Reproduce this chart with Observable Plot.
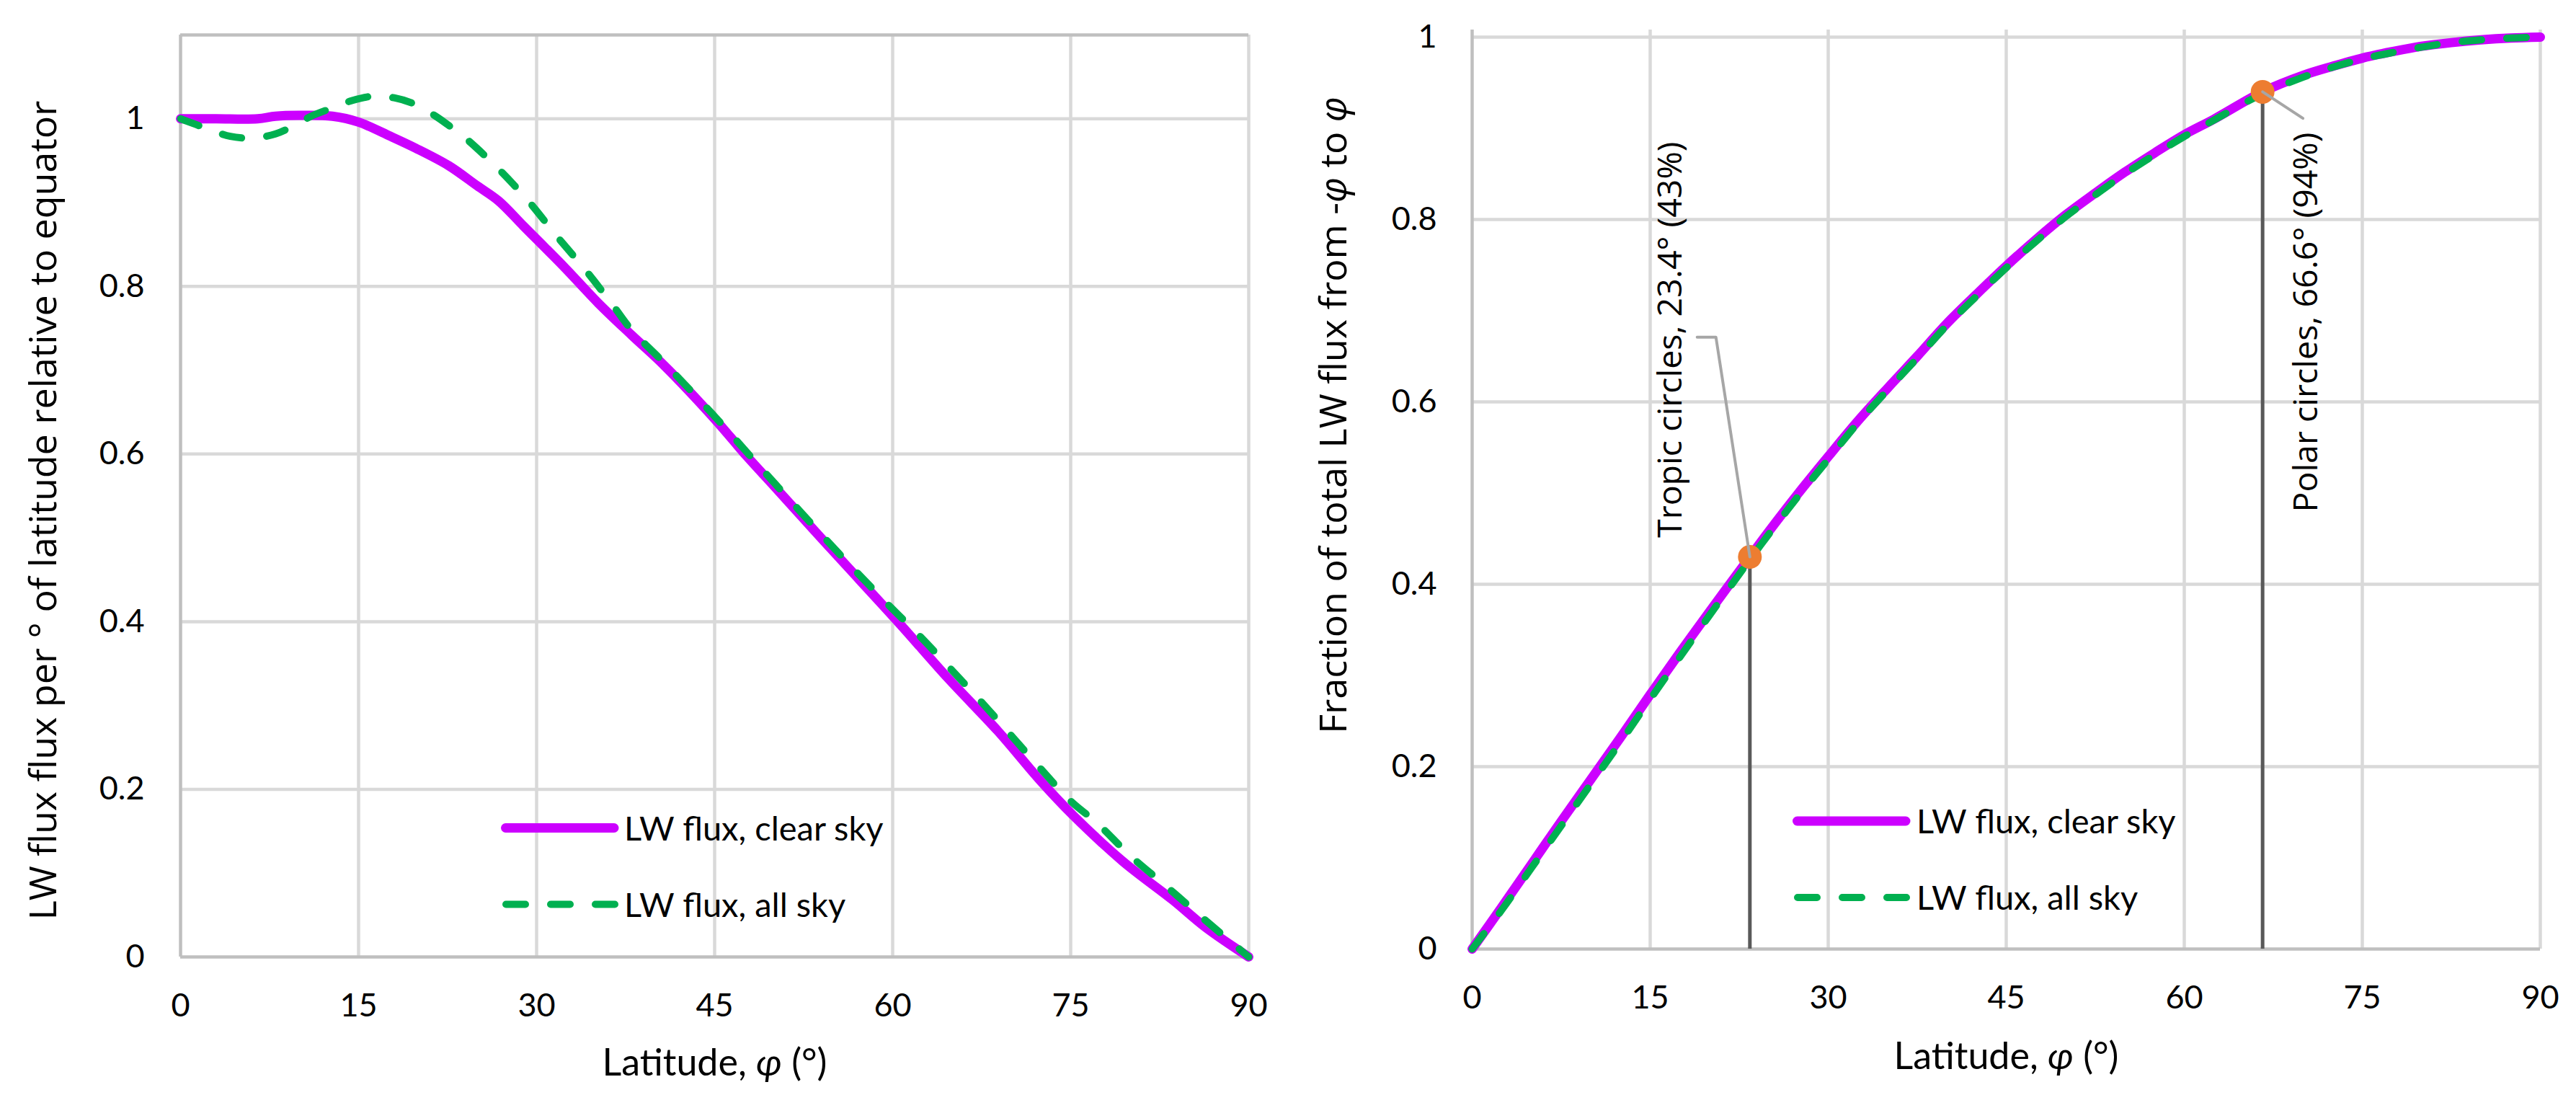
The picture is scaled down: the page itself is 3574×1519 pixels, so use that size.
<!DOCTYPE html>
<html>
<head>
<meta charset="utf-8">
<script src="https://cdn.jsdelivr.net/npm/d3@7"></script>
<script src="https://cdn.jsdelivr.net/npm/@observablehq/plot@0.6"></script>
<style>
html, body { margin: 0; padding: 0; background: #fff; }
#wrap { position: relative; width: 3574px; height: 1519px; display: flex; background: #fff; }
</style>
</head>
<body>
<div id="wrap"></div>
<script>
// ---------- data ----------
const xTicks = [0, 15, 30, 45, 60, 75, 90];
const yTicks = [0, 0.2, 0.4, 0.6, 0.8, 1];
const seriesNames = ["LW flux, clear sky", "LW flux, all sky"];

// Left chart: LW flux per degree of latitude relative to equator
const latClearL = [0, 3, 6.5, 8, 10, 12.8, 15, 17.7, 19.8, 22.6, 25, 26.8, 28.9, 32.4, 35.2, 38, 40.8, 45, 47.8, 50, 54.8, 60.5, 64.7, 68.9, 72.4, 75.2, 79.4, 83.6, 86.4, 90];
const valClearL = [1.0, 1.0, 1.0, 1.003, 1.004, 1.003, 0.996, 0.979, 0.965, 0.944, 0.92, 0.902, 0.872, 0.822, 0.780, 0.742, 0.705, 0.642, 0.596, 0.562, 0.487, 0.399, 0.332, 0.269, 0.211, 0.169, 0.114, 0.068, 0.035, 0];
const latAllL = [0, 2.3, 4.2, 6.2, 8, 9.3, 11, 12.8, 14.5, 16.3, 18, 19.8, 21.5, 22.6, 24, 26.8, 29.3, 31.7, 34.2, 36.3, 38, 40.8, 45, 50, 55.9, 60, 62, 65, 68, 72, 75, 77.2, 80, 83, 86, 90];
const valAllL = [1.0, 0.988, 0.979, 0.977, 0.982, 0.990, 1.003, 1.013, 1.022, 1.027, 1.025, 1.017, 1.003, 0.992, 0.977, 0.940, 0.902, 0.860, 0.818, 0.780, 0.748, 0.708, 0.645, 0.566, 0.475, 0.415, 0.387, 0.342, 0.296, 0.232, 0.186, 0.160, 0.121, 0.085, 0.048, 0];

// Right chart: cumulative fraction of total LW flux from -phi to phi
const latR = [0, 2.5, 5, 7.5, 10, 12.5, 15, 17.5, 20, 23.4, 25, 27.5, 30, 32.5, 35, 37.5, 40, 42.5, 45, 47.5, 50, 52.5, 55, 57.5, 60, 62.5, 66.6, 70, 72.5, 75, 77.5, 80, 82.5, 85, 87.5, 90];
const valClearR = [0, 0.046, 0.093, 0.140, 0.186, 0.232, 0.279, 0.325, 0.370, 0.430, 0.458, 0.500, 0.540, 0.579, 0.615, 0.650, 0.686, 0.718, 0.749, 0.778, 0.805, 0.829, 0.852, 0.873, 0.893, 0.910, 0.940, 0.958, 0.968, 0.977, 0.984, 0.990, 0.994, 0.997, 0.999, 1.0];
const valAllR = [0, 0.043, 0.089, 0.135, 0.181, 0.227, 0.274, 0.320, 0.366, 0.427, 0.455, 0.497, 0.537, 0.577, 0.613, 0.648, 0.684, 0.716, 0.747, 0.776, 0.803, 0.827, 0.850, 0.871, 0.891, 0.909, 0.938, 0.956, 0.967, 0.976, 0.983, 0.989, 0.994, 0.997, 0.999, 1.0];

// Annotated points (right chart)
const markLat = [23.4, 66.6];
const markVal = [0.43, 0.94];
const markLabels = ["Tropic circles, 23.4° (43%)", "Polar circles, 66.6° (94%)"];
const labelLat = [17.62, 71.2];
const labelVal = [0.451, 0.479];
// leader lines (lat, fraction) per annotation
const leaderTropicLat = [18.96, 20.54, 23.4];
const leaderTropicVal = [0.671, 0.671, 0.43];
const leaderPolarLat = [66.6, 70.0];
const leaderPolarVal = [0.94, 0.911];

// ---------- style ----------
const MAGENTA = "#CC00FF", GREEN = "#00B050", ORANGE = "#ED7D31";
const GRID = "#D9D9D9", AXIS = "#BFBFBF";
const W = 1787, H = 1519;

const zipXY = (xs, ys) => xs.map((x, i) => ({lat: x, v: ys[i]}));
const clearL = zipXY(latClearL, valClearL);
const allL = zipXY(latAllL, valAllL);
const clearR = zipXY(latR, valClearR);
const allR = zipXY(latR, valAllR);
const marksPts = markLat.map((x, i) => ({lat: x, v: markVal[i], label: markLabels[i], lx: labelLat[i], ly: labelVal[i]}));
const leaders = [
  ...zipXY(leaderTropicLat, leaderTropicVal).map(d => ({...d, id: "t"})),
  ...zipXY(leaderPolarLat, leaderPolarVal).map(d => ({...d, id: "p"}))
];

function legendMark(x0, yClear, yAll, textX) {
  return () => {
    const g = d3.create("svg:g");
    g.append("line").attr("x1", x0 + 6.5).attr("x2", x0 + 157).attr("y1", yClear).attr("y2", yClear)
      .attr("stroke", MAGENTA).attr("stroke-width", 13).attr("stroke-linecap", "round");
    g.append("line").attr("x1", x0 + 7).attr("x2", x0 + 158).attr("y1", yAll).attr("y2", yAll)
      .attr("stroke", GREEN).attr("stroke-width", 10).attr("stroke-linecap", "round").attr("stroke-dasharray", "27,35");
    g.append("text").attr("x", textX).attr("y", yClear + 17).attr("text-anchor", "start").attr("font-size", 47).attr("font-family", "Lato, sans-serif").text(seriesNames[0]);
    g.append("text").attr("x", textX).attr("y", yAll + 17).attr("text-anchor", "start").attr("font-size", 47).attr("font-family", "Lato, sans-serif").text(seriesNames[1]);
    return g.node();
  };
}

const baseStyle = {fontFamily: "Lato, sans-serif", fontSize: "45px", color: "#000", background: "#fff", overflow: "visible"};

const left = Plot.plot({
  width: W, height: H,
  marginLeft: 250, marginRight: 55, marginTop: 48, marginBottom: 192,
  style: baseStyle,
  x: {domain: [0, 90]},
  y: {domain: [0, 1.1]},
  marks: [
    Plot.ruleY(yTicks.filter(d => d > 0), {stroke: GRID, strokeWidth: 4.5}),
    Plot.ruleX(xTicks.filter(d => d > 0), {y1: 0, y2: 1.1, stroke: GRID, strokeWidth: 4.5}),
    Plot.ruleY([0, 1.1], {stroke: AXIS, strokeWidth: 4.5}),
    Plot.ruleX([0], {y1: 0, y2: 1.1, stroke: AXIS, strokeWidth: 4.5}),
    Plot.axisX({ticks: xTicks, tickSize: 0, tickPadding: 51, label: null, fontSize: 45}),
    Plot.axisY({ticks: yTicks, tickSize: 0, tickPadding: 50, label: null, fontSize: 45, tickFormat: d => String(d)}),
    Plot.line(clearL, {x: "lat", y: "v", stroke: MAGENTA, strokeWidth: 13, curve: "catmull-rom", strokeLinecap: "round", strokeLinejoin: "round"}),
    Plot.line(allL, {x: "lat", y: "v", stroke: GREEN, strokeWidth: 10, curve: "catmull-rom", strokeDasharray: "27,35", strokeLinecap: "round", strokeLinejoin: "round"}),
    Plot.text(["Latitude, φ (°)"], {frameAnchor: "bottom", dy: 164, lineAnchor: "bottom", fontSize: 52}),
    Plot.text(["LW flux flux per ° of latitude relative to equator"], {frameAnchor: "left", rotate: -90, dx: -173, dy: 20, lineAnchor: "bottom", textAnchor: "middle", fontFamily: "Open Sans, sans-serif", fontSize: 52}),
    legendMark(695, 1148.5, 1254.5, 866)
  ]
});

const right = Plot.plot({
  width: W, height: H,
  marginLeft: 255, marginRight: 50, marginTop: 51, marginBottom: 203,
  style: baseStyle,
  x: {domain: [0, 90]},
  y: {domain: [0, 1]},
  marks: [
    Plot.ruleY(yTicks.filter(d => d > 0), {stroke: GRID, strokeWidth: 4.5}),
    Plot.ruleX(xTicks.filter(d => d > 0), {y1: 0, y2: 1.008, stroke: GRID, strokeWidth: 4.5}),
    Plot.ruleY([0], {stroke: AXIS, strokeWidth: 4.5}),
    Plot.ruleX([0], {y1: 0, y2: 1.008, stroke: AXIS, strokeWidth: 4.5}),
    Plot.axisX({ticks: xTicks, tickSize: 0, tickPadding: 51, label: null, fontSize: 45}),
    Plot.axisY({ticks: yTicks, tickSize: 0, tickPadding: 49, label: null, fontSize: 45, tickFormat: d => String(d)}),
    Plot.line(clearR, {x: "lat", y: "v", stroke: MAGENTA, strokeWidth: 13, curve: "catmull-rom", strokeLinecap: "round", strokeLinejoin: "round"}),
    Plot.line(allR, {x: "lat", y: "v", stroke: GREEN, strokeWidth: 10, curve: "catmull-rom", strokeDasharray: "27,35", strokeLinecap: "round", strokeLinejoin: "round"}),
    Plot.ruleX(marksPts, {x: "lat", y1: 0, y2: "v", stroke: "#595959", strokeWidth: 5}),
    Plot.dot(marksPts, {x: "lat", y: "v", r: 16.5, fill: ORANGE, stroke: "none"}),
    Plot.line(leaders, {x: "lat", y: "v", z: "id", stroke: "#A6A6A6", strokeWidth: 4}),
    Plot.text(marksPts, {x: "lx", y: "ly", text: "label", rotate: -90, textAnchor: "start", lineAnchor: "bottom", fontFamily: "Open Sans, sans-serif", fontSize: 46.5}),
    Plot.text(["Latitude, φ (°)"], {frameAnchor: "bottom", dy: 166, lineAnchor: "bottom", fontSize: 52}),
    Plot.text(["Fraction of total LW flux from -φ to φ"], {frameAnchor: "left", rotate: -90, dx: -175, dy: -108, lineAnchor: "bottom", textAnchor: "middle", fontFamily: "Open Sans, sans-serif", fontSize: 52}),
    legendMark(2487 - 1787, 1139, 1245, 2659 - 1787)
  ]
});

function italicPhi(svg) {
  svg.querySelectorAll("text").forEach(t => {
    if (t.children.length) return;
    const s = t.textContent;
    if (!s.includes("φ")) return;
    t.textContent = "";
    s.split(/(φ)/).forEach(part => {
      if (!part) return;
      const ts = document.createElementNS("http://www.w3.org/2000/svg", "tspan");
      if (part === "φ") ts.setAttribute("font-style", "italic");
      ts.textContent = part;
      t.appendChild(ts);
    });
  });
}
italicPhi(left);
italicPhi(right);

const wrap = document.getElementById("wrap");
wrap.appendChild(left);
wrap.appendChild(right);
</script>
</body>
</html>
